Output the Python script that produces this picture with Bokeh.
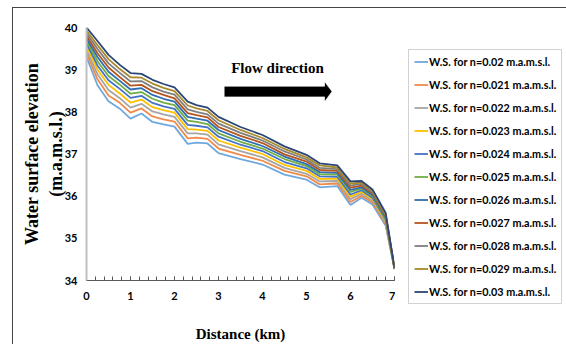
from bokeh.plotting import figure
from bokeh.layouts import row
from bokeh.models import (Range1d, SingleIntervalTicker, Legend, LegendItem,
                          Label, PolyAnnotation)
from bokeh.embed import file_html
from bokeh.resources import INLINE

# ---------------- data ----------------
distance_km = [0, 0.25, 0.5, 0.75, 1.0, 1.25, 1.5, 1.75, 2.0, 2.3, 2.5, 2.75,
               3.0, 3.5, 4.0, 4.5, 5.0, 5.3, 5.7, 6.0, 6.25, 6.5, 6.8, 7.0]

ws_n020 = [39.30, 38.63, 38.25, 38.08, 37.84, 37.96, 37.76, 37.70, 37.65, 37.24, 37.27, 37.25,
           37.02, 36.88, 36.75, 36.51, 36.39, 36.21, 36.24, 35.79, 35.96, 35.80, 35.30, 34.27]
ws_n021 = [39.39, 38.77, 38.39, 38.22, 37.98, 38.08, 37.89, 37.82, 37.77, 37.37, 37.39, 37.36,
           37.13, 36.98, 36.84, 36.60, 36.47, 36.28, 36.30, 35.86, 36.01, 35.85, 35.34, 34.27]
ws_n022 = [39.47, 38.89, 38.52, 38.33, 38.10, 38.19, 38.01, 37.94, 37.88, 37.49, 37.49, 37.46,
           37.23, 37.07, 36.92, 36.67, 36.53, 36.35, 36.36, 35.93, 36.06, 35.89, 35.37, 34.28]
ws_n023 = [39.55, 39.00, 38.64, 38.44, 38.22, 38.29, 38.11, 38.04, 37.98, 37.59, 37.58, 37.55,
           37.32, 37.15, 37.00, 36.74, 36.60, 36.41, 36.41, 35.99, 36.10, 35.93, 35.41, 34.28]
ws_n024 = [39.62, 39.10, 38.75, 38.55, 38.33, 38.38, 38.21, 38.13, 38.07, 37.69, 37.67, 37.63,
           37.41, 37.22, 37.07, 36.81, 36.66, 36.47, 36.46, 36.04, 36.14, 35.96, 35.44, 34.28]
ws_n025 = [39.68, 39.20, 38.85, 38.65, 38.43, 38.47, 38.31, 38.22, 38.16, 37.79, 37.76, 37.71,
           37.49, 37.29, 37.13, 36.88, 36.71, 36.52, 36.51, 36.10, 36.18, 36.00, 35.46, 34.29]
ws_n026 = [39.74, 39.30, 38.95, 38.74, 38.53, 38.56, 38.40, 38.31, 38.24, 37.88, 37.84, 37.79,
           37.57, 37.36, 37.19, 36.94, 36.76, 36.57, 36.55, 36.15, 36.21, 36.03, 35.49, 34.29]
ws_n027 = [39.81, 39.39, 39.05, 38.83, 38.62, 38.64, 38.49, 38.40, 38.32, 37.97, 37.92, 37.87,
           37.64, 37.43, 37.26, 36.99, 36.82, 36.62, 36.60, 36.20, 36.25, 36.06, 35.52, 34.29]
ws_n028 = [39.87, 39.49, 39.15, 38.93, 38.72, 38.73, 38.58, 38.48, 38.41, 38.06, 38.00, 37.94,
           37.72, 37.50, 37.32, 37.06, 36.87, 36.67, 36.64, 36.25, 36.29, 36.09, 35.55, 34.29]
ws_n029 = [39.93, 39.58, 39.25, 39.02, 38.82, 38.81, 38.67, 38.57, 38.49, 38.15, 38.08, 38.02,
           37.80, 37.57, 37.38, 37.12, 36.92, 36.73, 36.68, 36.30, 36.32, 36.13, 35.57, 34.29]
ws_n030 = [40.00, 39.68, 39.35, 39.12, 38.92, 38.90, 38.76, 38.66, 38.58, 38.24, 38.16, 38.10,
           37.88, 37.64, 37.45, 37.18, 36.98, 36.78, 36.73, 36.35, 36.36, 36.16, 35.60, 34.30]

series_labels = ["W.S. for n=0.02 m.a.m.s.l.", "W.S. for n=0.021 m.a.m.s.l.",
                 "W.S. for n=0.022 m.a.m.s.l.", "W.S. for n=0.023 m.a.m.s.l.",
                 "W.S. for n=0.024 m.a.m.s.l.", "W.S. for n=0.025 m.a.m.s.l.",
                 "W.S. for n=0.026 m.a.m.s.l.", "W.S. for n=0.027 m.a.m.s.l.",
                 "W.S. for n=0.028 m.a.m.s.l.", "W.S. for n=0.029 m.a.m.s.l.",
                 "W.S. for n=0.03 m.a.m.s.l."]
series_values = [ws_n020, ws_n021, ws_n022, ws_n023, ws_n024, ws_n025,
                 ws_n026, ws_n027, ws_n028, ws_n029, ws_n030]
series_colors = ["#6FA8DC", "#F08A4B", "#A5A5A5", "#FFC000", "#4472C4", "#70AD47",
                 "#2F6EAE", "#B5541C", "#7F7F7F", "#A88A2A", "#2B4677"]

x_ticks_major = 1
x_minor_per_major = 5
y_tick_interval = 1

tick_font = "Lato"
serif = "Liberation Serif"

# ---------------- main figure ----------------
p = figure(width=382, height=336, output_backend="svg", toolbar_location=None,
           x_range=Range1d(0, 7), y_range=Range1d(34, 40),
           min_border_left=73, min_border_right=1, min_border_top=19,
           min_border_bottom=62)
p.frame_align = False
p.outline_line_color = None
p.xgrid.visible = False
p.ygrid.visible = False
p.background_fill_color = "white"
p.border_fill_color = "white"

xa = p.xaxis[0]
xa.ticker = SingleIntervalTicker(interval=x_ticks_major, num_minor_ticks=x_minor_per_major)
xa.axis_line_color = "#595959"
xa.axis_line_width = 1.2
xa.major_tick_line_color = "#595959"
xa.minor_tick_line_color = "#595959"
xa.major_tick_in = 4
xa.major_tick_out = 0
xa.minor_tick_in = 4
xa.minor_tick_out = 0
xa.major_label_standoff = 11
xa.major_label_text_font = tick_font
xa.major_label_text_font_style = "bold"
xa.major_label_text_font_size = "11px"
xa.major_label_text_color = "black"
xa.axis_label = "Distance (km)"
xa.axis_label_standoff = 23
xa.axis_label_text_font = serif
xa.axis_label_text_font_style = "bold"
xa.axis_label_text_font_size = "15px"
xa.axis_label_text_color = "black"

ya = p.yaxis[0]
ya.ticker = SingleIntervalTicker(interval=y_tick_interval, num_minor_ticks=0)
ya.axis_line_color = "#BFBFBF"
ya.axis_line_width = 2
ya.major_tick_in = 0
ya.major_tick_out = 0
ya.minor_tick_in = 0
ya.minor_tick_out = 0
ya.major_label_standoff = 9
ya.major_label_text_font = tick_font
ya.major_label_text_font_style = "bold"
ya.major_label_text_font_size = "11px"
ya.major_label_text_color = "black"
ya.axis_label = "Water surface elevation\n(m.a.m.s.l.)"
ya.axis_label_standoff = -4
ya.axis_label_text_font = serif
ya.axis_label_text_font_style = "bold"
ya.axis_label_text_font_size = "18px"
ya.axis_label_text_color = "black"

for vals, col in zip(series_values, series_colors):
    p.line(distance_km, vals, line_color=col, line_width=1.8)

p.add_layout(Label(x=4.34, y=39.04, text="Flow direction", text_align="center",
                   text_baseline="middle", text_font=serif, text_font_style="bold",
                   text_font_size="15px", text_color="black"))

# flow direction arrow (annotation)
arrow_xs = [3.14, 5.42, 5.42, 5.57, 5.42, 5.42, 3.14]
arrow_ys = [38.595, 38.595, 38.69, 38.48, 38.27, 38.365, 38.365]
p.add_layout(PolyAnnotation(xs=arrow_xs, ys=arrow_ys, fill_color="black", fill_alpha=1,
                            line_color="black", line_width=1))

# ---------------- legend panel ----------------
lg = figure(width=171, height=336, output_backend="svg", toolbar_location=None,
            x_range=Range1d(100, 101), y_range=Range1d(100, 101),
            x_axis_location=None, y_axis_location=None,
            min_border_left=0, min_border_right=0, min_border_top=0, min_border_bottom=0)
lg.frame_align = False
lg.outline_line_color = None
lg.xgrid.visible = False
lg.ygrid.visible = False
lg.background_fill_color = "white"
lg.border_fill_color = "white"

items = []
for lab, vals, col in zip(series_labels, series_values, series_colors):
    r = lg.line(distance_km, vals, line_color=col, line_width=1.8)
    items.append(LegendItem(label=lab, renderers=[r]))

legend = Legend(items=items, location=(13, 40))
legend.margin = 0
legend.padding = 5
legend.spacing = 10
legend.glyph_height = 13
legend.label_height = 13
legend.glyph_width = 14
legend.label_standoff = 1
legend.label_text_font = tick_font
legend.label_text_font_style = "bold"
legend.label_text_font_size = "10.8px"
legend.label_text_color = "black"
legend.border_line_color = "#A6A6A6"
legend.border_line_width = 1.2
legend.background_fill_color = "white"
legend.background_fill_alpha = 1
lg.add_layout(legend, "center")

layout = row(p, lg, spacing=0)
layout.styles = {"margin-left": "12px", "margin-top": "7px",
                 "border-left": "1px solid #444444", "border-top": "1px solid #444444"}

open("out.html", "w").write(file_html(layout, INLINE))
